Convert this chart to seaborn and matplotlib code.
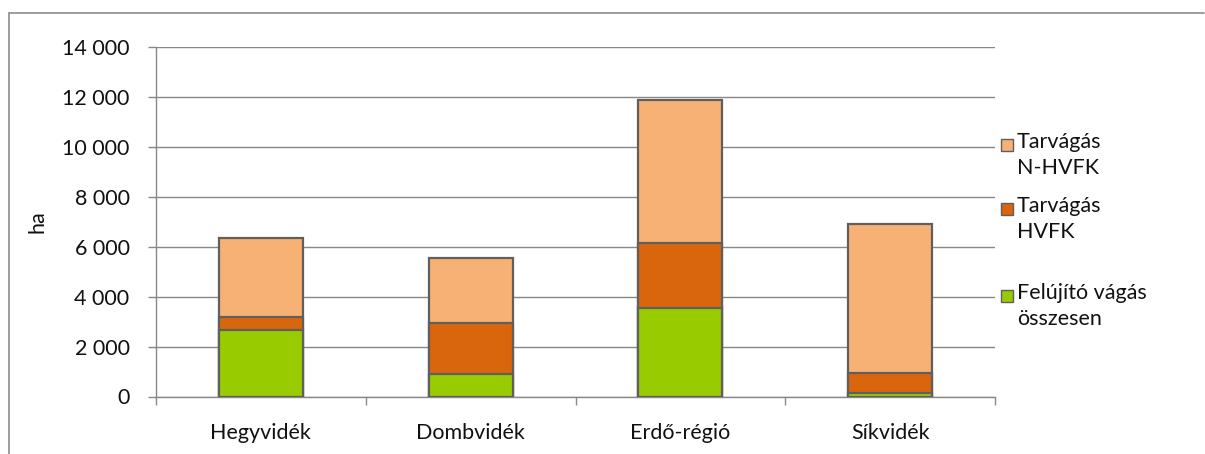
import pandas as pd
import numpy as np
import matplotlib.pyplot as plt
import seaborn as sns
from matplotlib.patches import Rectangle
from matplotlib.ticker import FuncFormatter

# Data (ha)
regions = ["Hegyvidék", "Dombvidék", "Erdő-régió", "Síkvidék"]
felujito = [2670, 900, 3550, 150]
tarvagas_hvfk = [510, 2030, 2590, 790]
tarvagas_nhvfk = [3150, 2610, 5720, 5960]

series_names = ["Tarvágás\nN-HVFK", "Tarvágás\nHVFK", "Felújító vágás\nösszesen"]
colors = ["#F8B174", "#D9650C", "#99CC00"]

sns.set_style("white")
plt.rcParams["font.family"] = ["Lato", "DejaVu Sans"]

df = pd.DataFrame({"region": regions,
                   "green": felujito,
                   "hvfk": tarvagas_hvfk,
                   "nhvfk": tarvagas_nhvfk})
df["lvl2"] = df["green"] + df["hvfk"]
df["total"] = df["lvl2"] + df["nhvfk"]

fig = plt.figure(figsize=(12.05, 4.54), dpi=100)
ax = fig.add_axes([156 / 1205, 1 - 396.5 / 454, 839 / 1205, 349.5 / 454])

grid_col = "#888888"
edge_col = "#5f5f5f"
txt_col = "#111111"
fs = 15.5

# stacked bars: draw cumulative totals from the top layer down
for col, c in zip(["total", "lvl2", "green"], colors):
    sns.barplot(data=df, x="region", y=col, color=c, width=0.4,
                edgecolor=edge_col, linewidth=1.6, saturation=1, ax=ax,
                zorder=3)

ax.set_ylim(0, 14000)
ax.set_xlim(-0.5, 3.5)
ax.set_yticks(np.arange(0, 14001, 2000))
ax.yaxis.set_major_formatter(FuncFormatter(lambda v, p: f"{int(v):,}".replace(",", " ")))
ax.grid(axis="y", color=grid_col, linewidth=1, zorder=0)
ax.set_axisbelow(True)

for s in ["top", "right"]:
    ax.spines[s].set_visible(False)
for s in ["left", "bottom"]:
    ax.spines[s].set_color(grid_col)
    ax.spines[s].set_linewidth(1)

ax.tick_params(axis="y", length=6, width=1, color=grid_col, pad=13,
               labelsize=fs, labelcolor=txt_col, left=True)
ax.tick_params(axis="x", which="major", length=0, pad=19,
               labelsize=fs, labelcolor=txt_col)
ax.set_xticks([-0.5, 0.5, 1.5, 2.5, 3.5], minor=True)
ax.tick_params(axis="x", which="minor", length=6, width=1, color=grid_col,
               bottom=True)
ax.set_xlabel("")
ax.set_ylabel("ha", fontsize=fs, color=txt_col)
ax.yaxis.set_label_coords(-109 / 839, 0.5)

# outer chart border (top and left edges visible)
fig.add_artist(plt.Line2D([9 / 1205, 1204 / 1205], [1 - 13 / 454, 1 - 13 / 454],
                          transform=fig.transFigure, color="#8c8c8c", lw=1.2))
fig.add_artist(plt.Line2D([9 / 1205, 9 / 1205], [0, 1 - 13 / 454],
                          transform=fig.transFigure, color="#8c8c8c", lw=1.2))

# legend, marker aligned with the first line of each entry
legend_y = [145, 209, 296]
for name, c, y in zip(series_names, colors, legend_y):
    fig.add_artist(Rectangle((1001 / 1205, 1 - (y + 6) / 454), 12 / 1205, 12 / 454,
                             transform=fig.transFigure, facecolor=c,
                             edgecolor=edge_col, linewidth=1))
    fig.text(1017 / 1205, 1 - (y - 13) / 454, name, fontsize=fs, color=txt_col,
             va="top", ha="left", linespacing=1.4)

fig.savefig("out.png", dpi=100)
